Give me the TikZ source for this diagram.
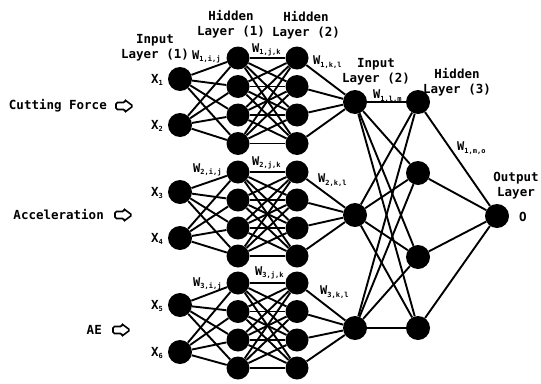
\documentclass[tikz,border=0pt]{standalone}
\usepackage{fontspec}
\setmonofont{DejaVu Sans Mono}
\newcommand\wsub[1]{W\raisebox{-0.4ex}{\fontsize{7}{7}\selectfont #1}}
\newcommand\xsub[1]{X\raisebox{-0.4ex}{\fontsize{7}{7}\selectfont #1}}
\begin{document}
\begin{tikzpicture}[x=1pt,y=-1pt,
  hid/.style={circle,fill=black,inner sep=0pt,minimum size=23pt},
  big/.style={circle,fill=black,inner sep=0pt,minimum size=24pt},
  conn/.style={line width=1.9pt},
  lbl/.style={font=\ttfamily\bfseries\fontsize{12.5}{15}\selectfont,inner sep=0pt,align=center},
  wl/.style={font=\ttfamily\bfseries\fontsize{12}{12}\selectfont,inner sep=0pt,anchor=west},
  arr/.style={line width=1.6pt,rounded corners=1.5pt}]
\useasboundingbox (0,0) rectangle (541,383);
% input layer (1)
\node[big] (i1) at (180,79) {};
\node[big] (i2) at (180,125) {};
\node[big] (i3) at (180,192) {};
\node[big] (i4) at (180,238) {};
\node[big] (i5) at (180,305) {};
\node[big] (i6) at (180,352) {};
% hidden layers (1) and (2)
\foreach \n/\yy in {1/58,2/86.5,3/115,4/143.5,5/172,6/200,7/228,8/256,9/283,10/311.5,11/340,12/368}{
  \node[hid] (a\n) at (238,\yy) {};
  \node[hid] (b\n) at (297,\yy) {};
}
% input layer (2)
\node[big] (c1) at (355,102) {};
\node[big] (c2) at (355,215) {};
\node[big] (c3) at (355,328) {};
% hidden layer (3)
\node[big] (d1) at (418,102) {};
\node[big] (d2) at (418,173) {};
\node[big] (d3) at (418,257) {};
\node[big] (d4) at (418,328) {};
% output
\node[big] (o) at (497,216) {};
% connections in the three sub-networks
\foreach \g/\ia/\ib in {0/1/2,1/3/4,2/5/6}{
  \foreach \j in {1,...,4}{
    \pgfmathtruncatemacro\jj{4*\g+\j}
    \pgfmathtruncatemacro\cc{\g+1}
    \draw[conn] (i\ia) -- (a\jj);
    \draw[conn] (i\ib) -- (a\jj);
    \draw[conn] (b\jj) -- (c\cc);
    \foreach \k in {1,...,4}{
      \pgfmathtruncatemacro\kk{4*\g+\k}
      \draw[conn] (a\jj) -- (b\kk);
    }
  }
}
\foreach \p in {1,2,3}{
  \foreach \q in {1,2,3,4}{
    \draw[conn] (c\p) -- (d\q);
  }
}
\foreach \q in {1,2,3,4}{
  \draw[conn] (d\q) -- (o);
}
% layer titles
\node[lbl] (t1) at (155,48) {Input\\Layer (1)};
\node[lbl] (t2) at (231,24) {Hidden\\Layer (1)};
\node[lbl] (t3) at (306,25) {Hidden\\Layer (2)};
\node[lbl] (t4) at (376,72) {Input\\Layer (2)};
\node[lbl] (t5) at (457,82) {Hidden\\Layer (3)};
\node[lbl] (t6) at (516,186) {Output\\Layer};
\node[lbl] (ol) at (523,217) {O};
% input names
\node[lbl,anchor=east] (x1) at (163,80) {\xsub{1}};
\node[lbl,anchor=east] (x2) at (163,126) {\xsub{2}};
\node[lbl,anchor=east] (x3) at (163,193) {\xsub{3}};
\node[lbl,anchor=east] (x4) at (163,239) {\xsub{4}};
\node[lbl,anchor=east] (x5) at (163,306) {\xsub{5}};
\node[lbl,anchor=east] (x6) at (163,353) {\xsub{6}};
% weights
\node[wl] (w1) at (192,57) {\wsub{1,i,j}};
\node[wl] (w2) at (252,50) {\wsub{1,j,k}};
\node[wl] (w3) at (313,62) {\wsub{1,k,l}};
\node[wl] (w4) at (193,170) {\wsub{2,i,j}};
\node[wl] (w5) at (252,163) {\wsub{2,j,k}};
\node[wl] (w6) at (318,180) {\wsub{2,k,l}};
\node[wl] (w7) at (193,284) {\wsub{3,i,j}};
\node[wl] (w8) at (255,273) {\wsub{3,j,k}};
\node[wl] (w9) at (320,292) {\wsub{3,k,l}};
\node[wl] (w10) at (373,96) {\wsub{1,l,m}};
\node[wl] (w11) at (457,148) {\wsub{1,m,o}};
% sensor inputs
\node[lbl,anchor=east] (s1) at (107,106) {Cutting Force};
\node[lbl,anchor=east] (s2) at (104,215) {Acceleration};
\node[lbl,anchor=east] (s3) at (102,330) {AE};
\foreach \cx/\cy in {124/106,123/215,121/330}{
  \draw[arr] (\cx-8,\cy-3.5) -- (\cx+1,\cy-3.5) -- (\cx+1,\cy-6) -- (\cx+9,\cy) -- (\cx+1,\cy+6) -- (\cx+1,\cy+3.5) -- (\cx-8,\cy+3.5) -- cycle;
}
\end{tikzpicture}
\end{document}
